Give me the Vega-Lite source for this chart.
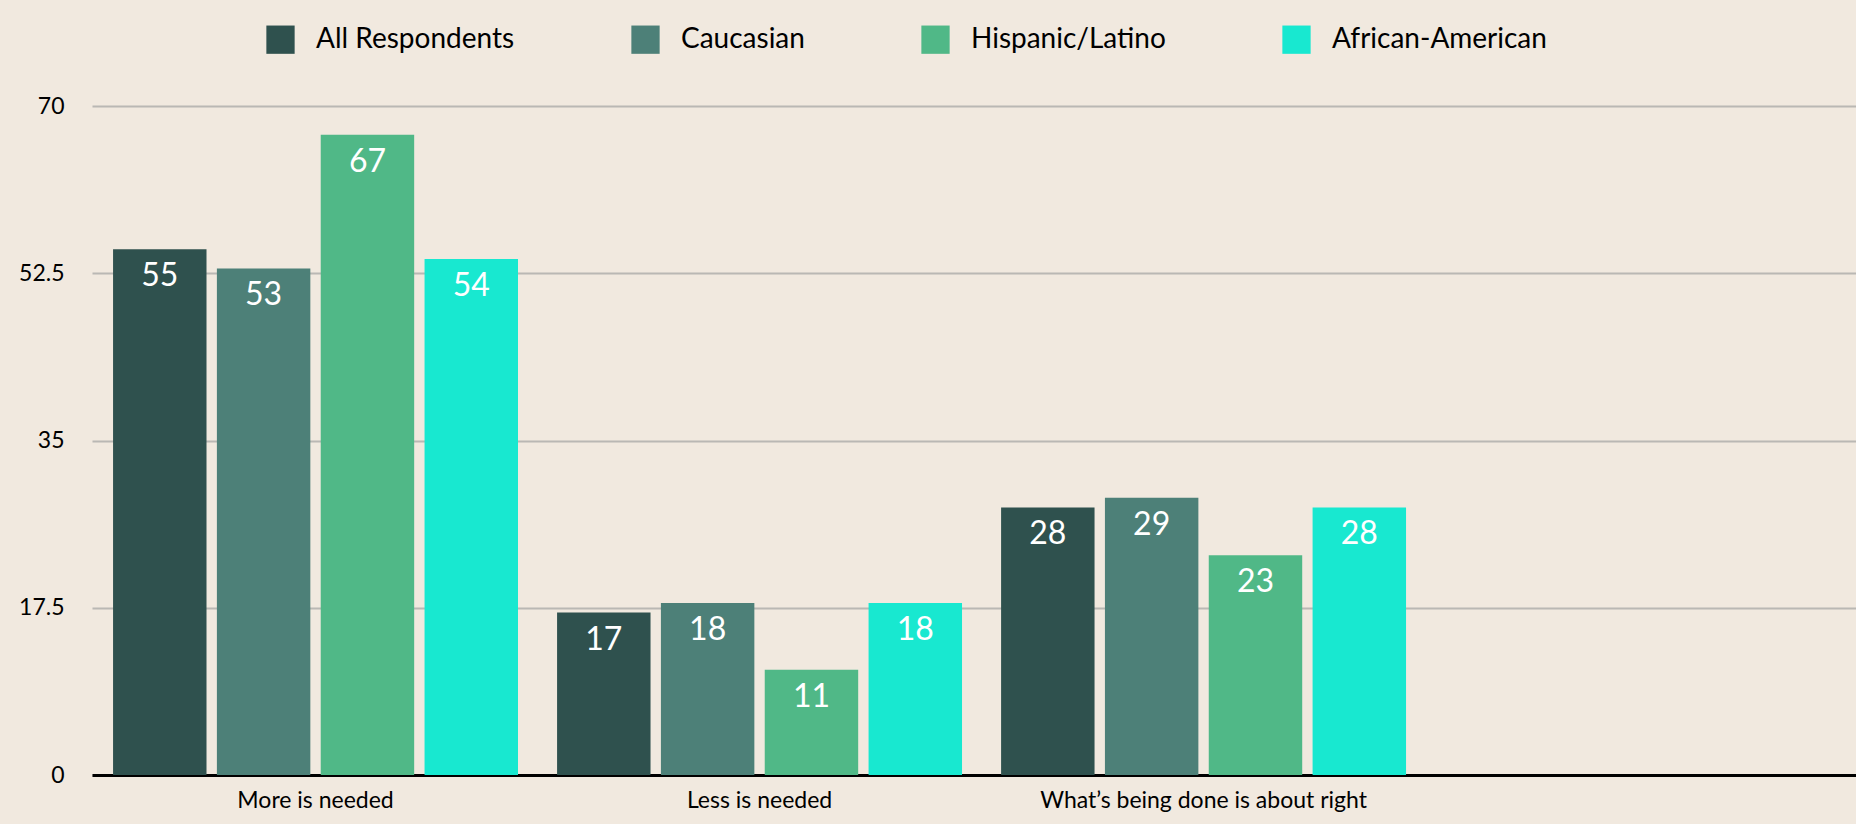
{
  "$schema": "https://vega.github.io/schema/vega-lite/v6.json",
  "width": 1764,
  "height": 669,
  "autosize": {"type": "none"},
  "padding": {"left": 92, "top": 106, "right": 0, "bottom": 49},
  "background": "#f1e9df",
  "config": {"view": {"stroke": null}, "font": "Lato"},
  "data": {
    "values": [
      {"answer": "More is needed", "group": "All Respondents", "pct": 55},
      {"answer": "More is needed", "group": "Caucasian", "pct": 53},
      {"answer": "More is needed", "group": "Hispanic/Latino", "pct": 67},
      {"answer": "More is needed", "group": "African-American", "pct": 54},
      {"answer": "Less is needed", "group": "All Respondents", "pct": 17},
      {"answer": "Less is needed", "group": "Caucasian", "pct": 18},
      {"answer": "Less is needed", "group": "Hispanic/Latino", "pct": 11},
      {"answer": "Less is needed", "group": "African-American", "pct": 18},
      {"answer": "What’s being done is about right", "group": "All Respondents", "pct": 28},
      {"answer": "What’s being done is about right", "group": "Caucasian", "pct": 29},
      {"answer": "What’s being done is about right", "group": "Hispanic/Latino", "pct": 23},
      {"answer": "What’s being done is about right", "group": "African-American", "pct": 28}
    ]
  },
  "encoding": {
    "x": {
      "field": "answer",
      "type": "nominal",
      "scale": {
        "domain": ["More is needed", "Less is needed", "What’s being done is about right", " "],
        "paddingInner": 0.088,
        "paddingOuter": 0.0304,
        "align": 0.78
      },
      "axis": {
        "title": null,
        "labelAngle": 0,
        "labelFontSize": 23,
        "labelColor": "#000000",
        "labelPadding": 14,
        "ticks": false,
        "domainColor": "#000000",
        "domainWidth": 3,
        "labelLimit": 600
      }
    },
    "xOffset": {
      "field": "group",
      "type": "nominal",
      "sort": ["All Respondents", "Caucasian", "Hispanic/Latino", "African-American"],
      "scale": {"paddingInner": 0.1, "paddingOuter": 0}
    },
    "y": {
      "field": "pct",
      "type": "quantitative",
      "scale": {"domain": [0, 70], "nice": false},
      "axis": {
        "title": null,
        "values": [0, 17.5, 35, 52.5, 70],
        "labelExpr": "'' + datum.value",
        "labelFontSize": 23,
        "labelColor": "#000000",
        "labelPadding": 28,
        "ticks": false,
        "domain": false,
        "gridColor": "#bab8b4",
        "gridWidth": 2
      }
    }
  },
  "layer": [
    {
      "mark": {"type": "bar"},
      "encoding": {
        "color": {
          "field": "group",
          "type": "nominal",
          "sort": ["All Respondents", "Caucasian", "Hispanic/Latino", "African-American"],
          "scale": {
            "domain": ["All Respondents", "Caucasian", "Hispanic/Latino", "African-American"],
            "range": ["#2f514e", "#4d8078", "#50b887", "#18e8d0"]
          },
          "legend": {
            "title": null,
            "orient": "none",
            "direction": "horizontal",
            "legendX": 174,
            "legendY": -81,
            "symbolType": "square",
            "symbolSize": 800,
            "symbolStrokeWidth": 0,
            "symbolOpacity": 1,
            "labelFontSize": 28,
            "labelColor": "#000000",
            "labelOffset": 21,
            "labelLimit": 400,
            "columnPadding": 116
          }
        }
      }
    },
    {
      "mark": {"type": "text", "color": "#ffffff", "fontSize": 32, "baseline": "alphabetic", "dy": 37},
      "encoding": {"text": {"field": "pct", "type": "quantitative"}}
    }
  ]
}
